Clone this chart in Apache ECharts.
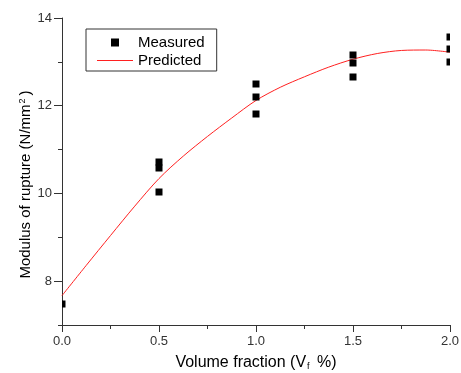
<!DOCTYPE html>
<html>
<head>
<meta charset="utf-8">
<script src="https://cdn.jsdelivr.net/npm/echarts@6/dist/echarts.min.js"></script>
<style>
html,body{margin:0;padding:0;background:#fff;}
#c{width:461px;height:373px;}
</style>
</head>
<body>
<div id="c"></div>
<script>
// Measured values: [volume fraction, modulus of rupture]
var measuredX = [0.0, 0.5, 0.5, 0.5, 1.0, 1.0, 1.0, 1.5, 1.5, 1.5, 2.0, 2.0, 2.0];
var measuredY = [7.48, 10.71, 10.57, 10.04, 12.5, 12.2, 11.82, 13.15, 12.98, 12.65, 13.57, 13.3, 13.0];
// Predicted curve
var predictedX = [0, 0.125, 0.25, 0.375, 0.5, 0.625, 0.75, 0.875, 1.0, 1.125, 1.25, 1.375, 1.5, 1.625, 1.75, 1.875, 2.0];
var predictedY = [7.67, 8.36, 9.04, 9.71, 10.34, 10.85, 11.3, 11.72, 12.12, 12.42, 12.66, 12.88, 13.06, 13.19, 13.26, 13.27, 13.22];
var yMajorTicks = [8, 10, 12, 14];
var yMinorTicks = [7, 9, 11, 13];
var xTicks = [0, 0.5, 1.0, 1.5, 2.0];

var font = 'Liberation Sans, Arial, sans-serif';
var axisColor = '#333';

var chart = echarts.init(document.getElementById('c'), null, {renderer: 'canvas'});
var measured = measuredX.map(function (x, i) { return [x, measuredY[i]]; });
var predicted = predictedX.map(function (x, i) { return [x, predictedY[i]]; });

var squareIcon = 'path://M0,0h0.01v0.01h-0.01z M14,0h8v8h-8z M35.99,7.99h0.01v0.01h-0.01z';
var lineIcon = 'path://M0,0h0.01v0.01h-0.01z M0,3.5h36v1h-36z M35.99,7.99h0.01v0.01h-0.01z';

chart.setOption({
  animation: false,
  backgroundColor: '#fff',
  grid: {left: 62, right: 11, top: 18, bottom: 48, containLabel: false, outerBoundsMode: 'none'},
  legend: {
    left: 86, top: 29,
    orient: 'vertical',
    padding: [6, 12, 3, 11],
    itemGap: 3,
    itemWidth: 36,
    itemHeight: 8,
    borderColor: '#333',
    borderWidth: 1,
    textStyle: {fontFamily: font, fontSize: 15, color: '#000'},
    data: [
      {name: 'Measured', icon: squareIcon, itemStyle: {color: '#000'}},
      {name: 'Predicted', icon: lineIcon, itemStyle: {color: '#ff2020'}}
    ]
  },
  xAxis: {
    type: 'value',
    min: 0, max: 2, interval: 0.5,
    name: '{n|Volume fraction (V}{s|f}{n| %)}',
    nameLocation: 'middle',
    nameGap: 30,
    nameTextStyle: {
      rich: {
        n: {fontFamily: font, fontSize: 16, color: '#000'},
        s: {fontFamily: font, fontSize: 9, color: '#000', verticalAlign: 'bottom', padding: [7, 3, 0, 1]}
      }
    },
    axisLine: {lineStyle: {color: axisColor, width: 1}},
    axisTick: {show: true, inside: false, length: 7, lineStyle: {color: axisColor}, customValues: xTicks},
    minorTick: {show: true, splitNumber: 2, length: 4, lineStyle: {color: axisColor}},
    axisLabel: {
      color: '#333', fontFamily: font, fontSize: 13, margin: 10,
      customValues: xTicks,
      formatter: function (v) { return v.toFixed(1); }
    },
    splitLine: {show: false}
  },
  yAxis: [{
    type: 'value',
    min: 7, max: 14, interval: 1,
    name: '{n|Modulus of rupture (N/mm}{s|2}{n|)}',
    nameLocation: 'middle',
    nameGap: 29,
    nameMoveOverlap: false,
    nameTextStyle: {
      padding: [0, 26, 0, 0],
      rich: {
        n: {fontFamily: font, fontSize: 15, color: '#000'},
        s: {fontFamily: font, fontSize: 9, color: '#000', verticalAlign: 'top', padding: [0, 3, 6, 1]}
      }
    },
    axisLine: {lineStyle: {color: axisColor, width: 1}},
    axisTick: {show: true, inside: false, length: 8, lineStyle: {color: axisColor}, customValues: yMajorTicks},
    axisLabel: {
      color: '#333', fontFamily: font, fontSize: 13, margin: 10,
      customValues: yMajorTicks
    },
    splitLine: {show: false}
  }, {
    type: 'value',
    min: 7, max: 14, interval: 1,
    position: 'left',
    axisLine: {show: false},
    axisTick: {show: true, inside: false, length: 4, lineStyle: {color: axisColor}, customValues: yMinorTicks},
    axisLabel: {show: false},
    splitLine: {show: false}
  }],
  series: [{
    name: 'Measured',
    type: 'custom',
    clip: true,
    encode: {x: 0, y: 1},
    data: measured,
    renderItem: function (params, api) {
      var p = api.coord([api.value(0), api.value(1)]);
      return {
        type: 'rect',
        shape: {x: Math.round(p[0]) - 3.5, y: Math.round(p[1]) - 3.5, width: 7, height: 7},
        style: {fill: '#000'}
      };
    },
    z: 3
  }, {
    name: 'Predicted',
    type: 'line',
    smooth: 0.3,
    showSymbol: false,
    symbol: 'none',
    clip: true,
    lineStyle: {color: '#ff2020', width: 1},
    itemStyle: {color: '#ff2020'},
    data: predicted,
    z: 2
  }]
});
</script>
</body>
</html>
